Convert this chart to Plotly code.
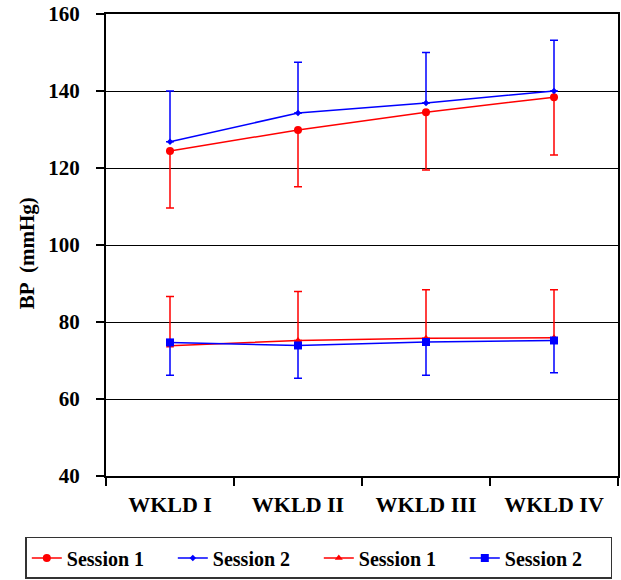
import plotly.graph_objects as go

categories = ["WKLD I", "WKLD II", "WKLD III", "WKLD IV"]

sys_s1 = [124.4, 129.9, 134.5, 138.4]
sys_s1_err = [14.8, 14.8, 15.0, 15.0]
sys_s2 = [126.8, 134.3, 136.9, 140.0]
sys_s2_err = [13.2, 13.2, 13.1, 13.2]
dia_s1 = [73.8, 75.2, 75.8, 75.9]
dia_s1_err = [12.8, 12.7, 12.6, 12.5]
dia_s2 = [74.7, 73.9, 74.8, 75.2]
dia_s2_err = [8.5, 8.5, 8.6, 8.4]

y_ticks = [40, 60, 80, 100, 120, 140, 160]

RED = "#FF0000"
BLUE = "#0000FF"
FONT = "Liberation Serif"

fig = go.Figure()

fig.add_trace(go.Scatter(
    x=categories, y=sys_s1, name="Session 1", mode="lines+markers",
    line=dict(color=RED, width=1.5),
    marker=dict(symbol="circle", size=8, color=RED),
    error_y=dict(type="data", array=[0]*4, arrayminus=sys_s1_err, symmetric=False,
                 color=RED, thickness=1.5, width=4),
))
fig.add_trace(go.Scatter(
    x=categories, y=sys_s2, name="Session 2", mode="lines+markers",
    line=dict(color=BLUE, width=1.5),
    marker=dict(symbol="diamond", size=5, color=BLUE),
    error_y=dict(type="data", array=sys_s2_err, arrayminus=[0]*4, symmetric=False,
                 color=BLUE, thickness=1.5, width=4),
))
fig.add_trace(go.Scatter(
    x=categories, y=dia_s1, name="Session 1", mode="lines+markers",
    line=dict(color=RED, width=1.5),
    marker=dict(symbol="triangle-up", size=7, color=RED),
    error_y=dict(type="data", array=dia_s1_err, arrayminus=[0]*4, symmetric=False,
                 color=RED, thickness=1.5, width=4),
))
fig.add_trace(go.Scatter(
    x=categories, y=dia_s2, name="Session 2", mode="lines+markers",
    line=dict(color=BLUE, width=1.5),
    marker=dict(symbol="square", size=8, color=BLUE),
    error_y=dict(type="data", array=[0]*4, arrayminus=dia_s2_err, symmetric=False,
                 color=BLUE, thickness=1.5, width=4),
))

fig.update_layout(
    width=621, height=580,
    margin=dict(l=106, r=1, t=14, b=104),
    paper_bgcolor="white", plot_bgcolor="white",
    font=dict(family=FONT, color="black"),
    showlegend=True,
    legend=dict(
        orientation="h", xref="paper", x=-0.1576, xanchor="left",
        yref="paper", y=-0.1320, yanchor="top",
        bordercolor="#333333", borderwidth=1.5, bgcolor="white",
        font=dict(family=FONT, size=20, color="black", weight="bold"),
        itemwidth=30, tracegroupgap=0, entrywidth=101,
    ),
    xaxis=dict(
        type="category", range=[-0.5, 3.5], tickson="boundaries",
        ticks="outside", ticklen=8, tickcolor="black", tickwidth=1.5,
        showline=True, linecolor="black", linewidth=2, mirror=True,
        showgrid=False, zeroline=False,
        tickfont=dict(family=FONT, size=22, color="black", weight="bold"),
        ticklabelstandoff=8,
    ),
    yaxis=dict(
        range=[40, 160], tickvals=y_ticks,
        ticks="outside", ticklen=8, tickcolor="black", tickwidth=1.5,
        showline=True, linecolor="black", linewidth=2, mirror=True,
        showgrid=True, gridcolor="black", gridwidth=1, zeroline=False,
        tickfont=dict(family=FONT, size=21, color="black", weight="bold"),
        ticklabelstandoff=12,
    ),
    annotations=[dict(
        text="BP  (mmHg)", xref="paper", yref="paper",
        x=-0.1537, y=0.483, xanchor="center", yanchor="middle",
        textangle=-90, showarrow=False,
        font=dict(family=FONT, size=21, color="black", weight="bold"),
    )],
)

fig.write_html("out.html")
